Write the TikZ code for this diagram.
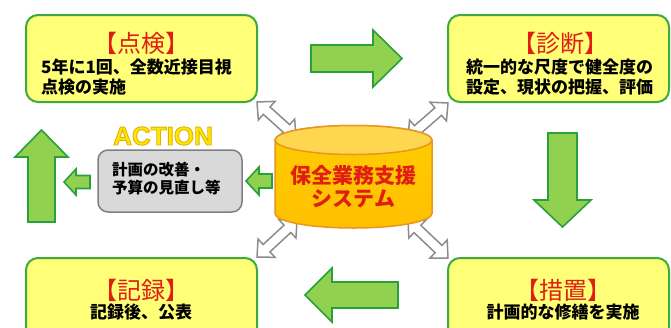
\documentclass[tikz,border=0pt]{standalone}
\usepackage{fontspec}
\setmainfont{Liberation Sans}
\newfontfamily\jp{Noto Sans CJK JP}
\definecolor{boxfill}{RGB}{255,255,120}
\definecolor{boxline}{RGB}{60,170,60}
\definecolor{arrfill}{RGB}{146,208,80}
\definecolor{arrline}{RGB}{40,160,60}
\definecolor{ttlred}{RGB}{225,30,20}
\definecolor{grayfill}{RGB}{217,217,217}
\definecolor{grayline}{RGB}{128,128,128}
\definecolor{cylline}{RGB}{232,150,30}
\definecolor{cylbody}{RGB}{255,192,0}
\definecolor{cyltop}{RGB}{255,214,80}
\definecolor{actyel}{RGB}{255,232,0}
\definecolor{wline}{RGB}{140,140,140}
\tikzset{
  box/.style={draw=boxline, fill=boxfill, line width=2pt, rounded corners=12pt},
  garrow/.style={draw=arrline, fill=arrfill, line width=1.6pt, line join=miter},
  warrow/.style={draw=wline, fill=white, line width=1.5pt, line join=miter},
  ttl/.style={font=\jp\fontsize{24}{26}\selectfont, text=ttlred, inner sep=0pt},
  body/.style={font=\jp\bfseries\fontsize{17}{20}\selectfont, align=left, inner sep=0pt},
}
\newcommand\dblarrow[4]{%
  \pgfmathsetmacro\dax{#3-#1}%
  \pgfmathsetmacro\day{#4-#2}%
  \pgfmathsetmacro\dang{atan2(-\day,\dax)}%
  \pgfmathsetmacro\dlen{veclen(\dax,\day)}%
  \begin{scope}[shift={(#1,#2)},rotate=\dang]
    \draw[warrow] (0,0) -- (13,12.5) -- (13,5) -- (\dlen-13,5) -- (\dlen-13,12.5)
      -- (\dlen,0) -- (\dlen-13,-12.5) -- (\dlen-13,-5) -- (13,-5) -- (13,-12.5) -- cycle;
  \end{scope}}
\begin{document}
\begin{tikzpicture}[x=1pt,y=-1pt]
\useasboundingbox (0,0) rectangle (671,327);
\fill[white] (0,0) rectangle (671,327);
\clip (0,0) rectangle (671,327);
% boxes
\path[box] (26,15) rectangle (257,102);
\path[box] (448,15) rectangle (669,102);
\path[box] (26,258) rectangle (257,345);
\path[box] (448,258) rectangle (669,345);
% green arrows
\draw[garrow] (311,45) -- (373,45) -- (373,30) -- (402,58.5) -- (373,87) -- (373,72) -- (311,72) -- cycle;
\draw[garrow] (548,133) -- (577,133) -- (577,200) -- (591,200) -- (562.5,227) -- (534,200) -- (548,200) -- cycle;
\draw[garrow] (398,282) -- (398,308) -- (332,308) -- (332,322) -- (305,295) -- (332,268) -- (332,282) -- cycle;
\draw[garrow] (28,222) -- (28,157) -- (15,157) -- (41.5,130) -- (68,157) -- (55,157) -- (55,222) -- cycle;
\draw[garrow] (90,175.5) -- (90,188.5) -- (76,188.5) -- (76,195) -- (64,182) -- (76,169) -- (76,175.5) -- cycle;
\draw[garrow] (272,174) -- (272,188) -- (259,188) -- (259,195) -- (246,181) -- (259,167) -- (259,174) -- cycle;
% gray box
\draw[fill=grayfill, draw=grayline, line width=1.5pt, rounded corners=10pt] (98,150) rectangle (242,212);
% white double arrows
\dblarrow{257}{102}{296}{137}
\dblarrow{408}{138}{448}{103}
\dblarrow{297}{220}{257}{257}
\dblarrow{408}{220}{448}{258}
% cylinder
\draw[draw=cylline, line width=1.5pt, top color=cylbody!80!yellow, bottom color=cylbody]
  (275,140) -- (275,213.5) arc[start angle=180, end angle=360, x radius=78.5pt, y radius=14.5pt]
  -- (432,140) arc[start angle=0, end angle=180, x radius=78.5pt, y radius=14.5pt] -- cycle;
\draw[draw=cylline, line width=1.5pt, fill=cyltop] (353.5,140) ellipse [x radius=78.5pt, y radius=14.5pt];
% texts
\node[ttl] (t1) at (141,43) {【点検】};
\node[body, anchor=west] (d1) at (41,77) {5年に1回、全数近接目視\\点検の実施};
\node[ttl] (t2) at (560,43) {【診断】};
\node[body, anchor=west] (d2) at (466,77) {統一的な尺度で健全度の\\設定、現状の把握、評価};
\node[ttl] (t3) at (141,290) {【記録】};
\node[body] (d3) at (141,312) {記録後、公表};
\node[ttl] (t4) at (563,290) {【措置】};
\node[body] (d4) at (563,312) {計画的な修繕を実施};
\node[font=\bfseries\fontsize{26}{28}\selectfont, text=actyel, inner sep=0pt] (act) at (163,136)
  {\special{pdf:literal 2 Tr 0.9 w 0.88 0.7 0 RG}ACTION\special{pdf:literal 0 Tr}};
\node[font=\jp\bfseries\fontsize{15.5}{18}\selectfont, align=left, anchor=west, inner sep=0pt] (g1) at (112,179) {計画の改善・\\予算の見直し等};
\node[font=\jp\bfseries\fontsize{21}{23}\selectfont, text=ttlred, align=center, inner sep=0pt] (c1) at (353.5,186.5) {保全業務支援\\システム};
\end{tikzpicture}
\end{document}
